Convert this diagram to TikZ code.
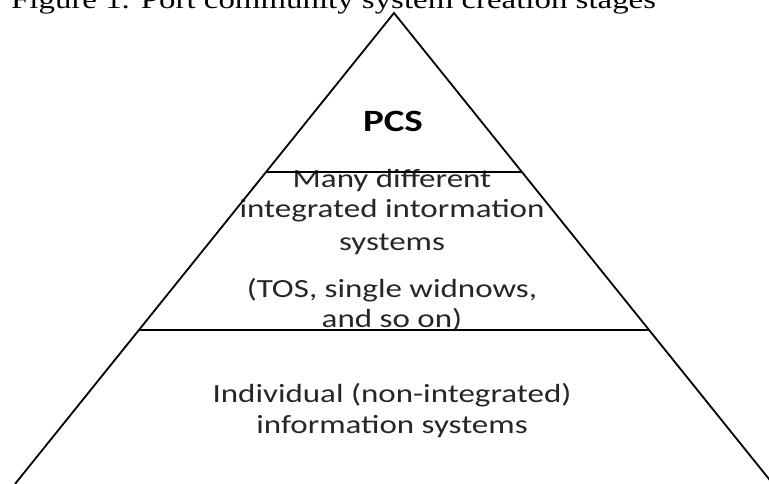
\documentclass[tikz,border=0pt]{standalone}
\usepackage{fontspec}
\setmainfont{Liberation Serif}
\newfontfamily\titlefont[FakeStretch=1.26]{Liberation Serif}
\newfontfamily\boxfont[FakeStretch=1.26]{Carlito}
\usetikzlibrary{calc}
\begin{document}
\begin{tikzpicture}[x=1pt,y=-1pt,
  edge/.style={line width=1.8pt, black, line join=miter},
  lbl/.style={inner sep=0pt, anchor=base, text=black!85,
    font=\boxfont\fontsize{26.2}{31}\selectfont},
  ttl/.style={inner sep=0pt, anchor=base west,
    font=\titlefont\fontsize{26.1}{31}\selectfont}]
\useasboundingbox (0,0) rectangle (769,484);
\clip (0,0) rectangle (769,484);

% pyramid outline
\coordinate (apex) at (394,13);
\coordinate (bl) at (15,484);
\coordinate (br) at (773,484);
\coordinate (t1l) at ($(apex)!0.3376!(bl)$);
\coordinate (t1r) at ($(apex)!0.3376!(br)$);
\coordinate (t2l) at ($(apex)!0.6730!(bl)$);
\coordinate (t2r) at ($(apex)!0.6730!(br)$);

% caption
\node[ttl] (title) at (11,9) {Figure 1. Port community system creation stages};

% top tier
\node[lbl, font=\boxfont\bfseries\fontsize{31}{36}\selectfont, text=black] (pcs) at (393,132) {PCS};

% middle tier
\node[lbl] (m1) at (392,188) {Many different};
\node[lbl] (m2) at (392,218) {integrated intormation};
\node[lbl] (m3) at (392,250) {systems};
\node[lbl] (m4) at (392,297) {(TOS, single widnows,};
\node[lbl] (m5) at (392,327) {and so on)};

% bottom tier
\node[lbl] (b1) at (392,402) {Individual (non-integrated)};
\node[lbl] (b2) at (392,433) {information systems};

% lines drawn over the text
\draw[edge] (bl) -- (apex) -- (br);
\draw[edge] (t1l) -- (t1r);
\draw[edge] (t2l) -- (t2r);
\end{tikzpicture}
\end{document}
